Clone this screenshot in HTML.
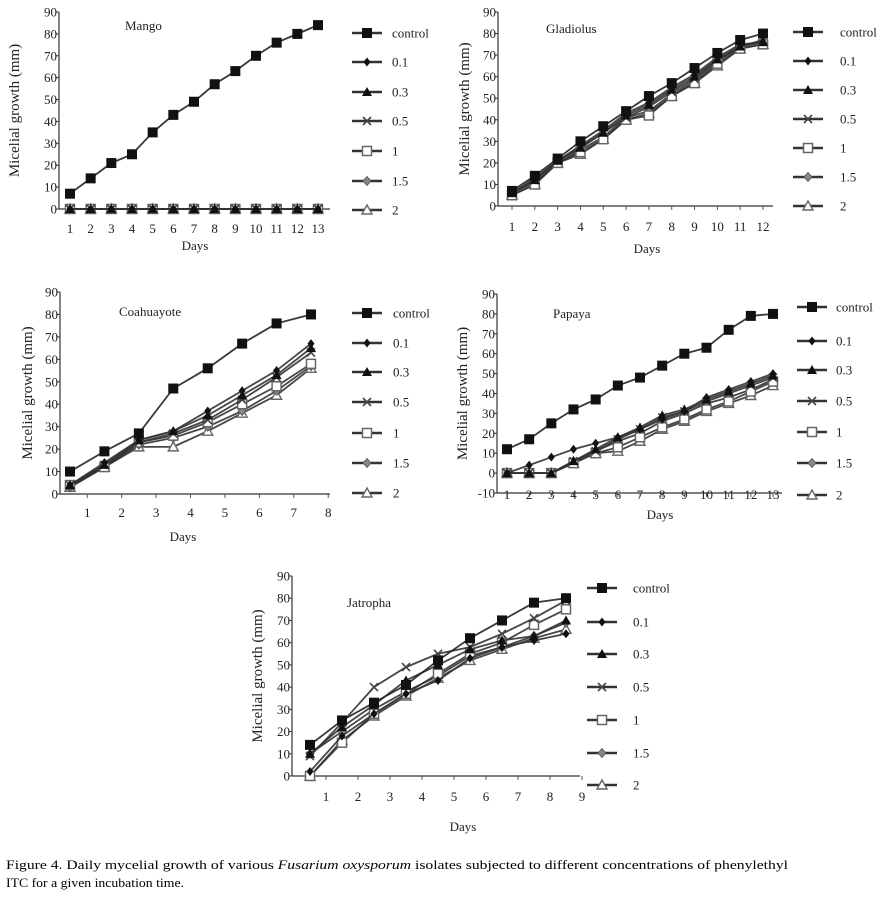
<!DOCTYPE html>
<html><head><meta charset="utf-8"><style>
html,body{margin:0;padding:0;background:#fff;}
svg{display:block;font-family:"Liberation Serif",serif;}
</style></head><body>
<svg id="fig" width="883" height="904" viewBox="0 0 883 904" xmlns="http://www.w3.org/2000/svg">
<text x="6" y="869" font-size="13" textLength="782" lengthAdjust="spacingAndGlyphs">Figure 4. Daily mycelial growth of various <tspan font-style="italic">Fusarium oxysporum</tspan> isolates subjected to different concentrations of phenylethyl</text>
<text x="6" y="887" font-size="13" textLength="178" lengthAdjust="spacingAndGlyphs">ITC for a given incubation time.</text>
</svg>
<script>
const seriesNames = ["control","0.1","0.3","0.5","1","1.5","2"];
const yTicks = [0,10,20,30,40,50,60,70,80,90];
const yTicksPapaya = [-10,0,10,20,30,40,50,60,70,80,90];

const mangoDays = [1,2,3,4,5,6,7,8,9,10,11,12,13];
const mangoControl = [7,14,21,25,35,43,49,57,63,70,76,80,84];
const mango01 = [0,0,0,0,0,0,0,0,0,0,0,0,0];
const mango03 = [0,0,0,0,0,0,0,0,0,0,0,0,0];
const mango05 = [0,0,0,0,0,0,0,0,0,0,0,0,0];
const mango1 = [0,0,0,0,0,0,0,0,0,0,0,0,0];
const mango15 = [0,0,0,0,0,0,0,0,0,0,0,0,0];
const mango2 = [0,0,0,0,0,0,0,0,0,0,0,0,0];

const gladDays = [1,2,3,4,5,6,7,8,9,10,11,12];
const gladControl = [7,14,22,30,37,44,51,57,64,71,77,80];
const glad01 = [6,13,21,28,35,43,48,55,61,69,75,76];
const glad03 = [6,12,21,27,34,42,47,54,60,68,74,76];
const glad05 = [6,12,21,27,34,41,46,53,59,68,74,77];
const glad1 = [5,10,20,25,31,40,42,51,57,66,73,75];
const glad15 = [6,11,20,26,32,41,44,52,58,67,74,76];
const glad2 = [5,10,20,24,31,40,43,51,57,65,73,75];

const coaDays = [0.5,1.5,2.5,3.5,4.5,5.5,6.5,7.5];
const coaControl = [10,19,27,47,56,67,76,80];
const coa01 = [4,14,24,28,37,46,55,67];
const coa03 = [4,13,24,28,35,44,53,65];
const coa05 = [4,13,23,27,33,42,52,63];
const coa1 = [4,12,23,26,32,40,48,58];
const coa15 = [3,12,22,25,30,37,46,57];
const coa2 = [3,12,21,21,28,36,44,56];

const papDays = [1,2,3,4,5,6,7,8,9,10,11,12,13];
const papControl = [12,17,25,32,37,44,48,54,60,63,72,79,80];
const pap01 = [0,4,8,12,15,18,22,27,31,38,42,46,50];
const pap03 = [0,0,0,6,12,18,23,29,32,37,41,45,49];
const pap05 = [0,0,0,6,11,17,22,28,31,36,40,44,48];
const pap1 = [0,0,0,5,10,13,18,23,27,32,36,41,46];
const pap15 = [0,0,0,6,11,16,20,26,30,35,38,42,47];
const pap2 = [0,0,0,5,10,11,16,22,26,31,35,39,44];

const jatDays = [0.5,1.5,2.5,3.5,4.5,5.5,6.5,7.5,8.5];
const jatControl = [14,25,33,41,52,62,70,78,80];
const jat01 = [2,18,28,37,43,53,58,61,64];
const jat03 = [10,22,32,43,50,57,61,63,70];
const jat05 = [9,24,40,49,55,58,64,71,79];
const jat1 = [0,15,28,37,46,55,60,68,75];
const jat15 = [10,20,30,38,45,54,58,63,69];
const jat2 = [0,16,27,36,44,52,57,62,66];

const NS = "http://www.w3.org/2000/svg";
const svg = document.getElementById("fig");
function mk(tag, attrs, parent, name){
  const e = document.createElementNS(NS, tag);
  for (const k in attrs) e.setAttribute(k, attrs[k]);
  
  
  (parent||svg).appendChild(e);
  return e;
}
function marker(g, type, x, y, name){
  const c = "#111";
  if (type===0) mk("rect",{x:x-5,y:y-5,width:10,height:10,fill:c},g,name);
  else if (type===1) mk("path",{d:`M${x},${y-4.5}L${x+3.5},${y}L${x},${y+4.5}L${x-3.5},${y}Z`,fill:c},g,name);
  else if (type===2) mk("path",{d:`M${x},${y-5}L${x+5},${y+4}L${x-5},${y+4}Z`,fill:c},g,name);
  else if (type===3) mk("path",{d:`M${x-4},${y-4}L${x+4},${y+4}M${x+4},${y-4}L${x-4},${y+4}`,stroke:"#444","stroke-width":1.6},g,name);
  else if (type===4) mk("rect",{x:x-4.5,y:y-4.5,width:9,height:9,fill:"#fff",stroke:"#666","stroke-width":1.5},g,name);
  else if (type===5) mk("path",{d:`M${x},${y-4.5}L${x+4},${y}L${x},${y+4.5}L${x-4},${y}Z`,fill:"#888",stroke:"#555","stroke-width":0.9},g,name);
  else mk("path",{d:`M${x},${y-5}L${x+5},${y+4}L${x-5},${y+4}Z`,fill:"#fff",stroke:"#666","stroke-width":1.4},g,name);
}
function panel(p){
  const g = mk("g",{},svg,p.name);
  const ys = v => p.y0 + (v - p.yMin) * (p.y1 - p.y0) / (p.yMax - p.yMin);
  const xs = d => p.xA + (d - p.dA) * (p.xB - p.xA) / (p.dB - p.dA);
  mk("line",{x1:p.ax,y1:ys(p.yMax),x2:p.ax,y2:ys(p.yMin),stroke:"#333","stroke-width":1.2},g,"y-axis-line");
  const axY = p.axisAtZero ? ys(0) : ys(p.yMin);
  mk("line",{x1:p.ax,y1:axY,x2:p.axEnd,y2:axY,stroke:"#333","stroke-width":1.2},g,"x-axis-line");
  p.yt.forEach(v=>{
    const y = ys(v);
    mk("line",{x1:p.ax-3,y1:y,x2:p.ax,y2:y,stroke:"#333"},g,"y-tick");
    const t = mk("text",{x:p.ax-2,y:y+4.5,"font-size":13,"text-anchor":"end",fill:"#222"},g,"y-tick-label");
    t.textContent = v;
  });
  p.xl.forEach(d=>{
    const x = xs(d);
    mk("line",{x1:x,y1:axY,x2:x,y2:axY+4,stroke:"#555"},g,"x-tick");
    const t = mk("text",{x:x,y:p.labY,"font-size":13,"text-anchor":"middle",fill:"#222"},g,"x-tick-label");
    t.textContent = d;
  });
  let t = mk("text",{x:p.daysX,y:p.daysY,"font-size":13,"text-anchor":"middle",fill:"#222"},g,"x-axis-title");
  t.textContent = "Days";
  t = mk("text",{x:0,y:0,"font-size":15,"text-anchor":"middle",fill:"#222",transform:`translate(${p.ytX},${(ys(p.yMax)+ys(p.yMin))/2}) rotate(-90)`},g,"y-axis-title");
  t.textContent = "Micelial growth (mm)";
  t = mk("text",{x:p.titleX,y:p.titleY,"font-size":13,fill:"#222"},g,"panel-title");
  t.textContent = p.title;
  for (let s = p.series.length-1; s>=0; s--){
    const vals = p.series[s];
    const pts = vals.map((v,i)=>xs(p.days[i])+","+ys(v)).join(" ");
    mk("polyline",{points:pts,fill:"none",stroke:s===0?"#222":"#333","stroke-width":1.8,"stroke-opacity":0.9},g,"series-line-"+seriesNames[s]);
    vals.forEach((v,i)=>marker(g,s,xs(p.days[i]),ys(v),"point-"+seriesNames[s]));
  }
  seriesNames.forEach((n,i)=>{
    const ly = p.legY[i];
    const lg = mk("g",{},g,"legend-entry-"+n);
    mk("line",{x1:p.legX-15,y1:ly,x2:p.legX+15,y2:ly,stroke:"#333","stroke-width":2.6},lg,"legend-line");
    marker(lg,i,p.legX,ly,"legend-marker");
    const tt = mk("text",{x:p.legTX,y:ly+4.5,"font-size":13,fill:"#222"},lg,"legend-label");
    tt.textContent = n;
  });
}
panel({name:"mango-chart",title:"Mango",titleX:125,titleY:30,ax:59,axEnd:330,y0:209,y1:12,yMin:0,yMax:90,axisAtZero:true,yt:yTicks,
  xA:70,xB:318,dA:1,dB:13,days:mangoDays,xl:mangoDays,labY:233,daysX:195,daysY:250,ytX:19,
  series:[mangoControl,mango01,mango03,mango05,mango1,mango15,mango2],legX:367,legTX:392,legY:[33,62,92,121,151,181,210]});
panel({name:"gladiolus-chart",title:"Gladiolus",titleX:546,titleY:33,ax:498,axEnd:773,y0:206,y1:12,yMin:0,yMax:90,axisAtZero:true,yt:yTicks,
  xA:512,xB:763,dA:1,dB:12,days:gladDays,xl:gladDays,labY:231,daysX:647,daysY:253,ytX:469,
  series:[gladControl,glad01,glad03,glad05,glad1,glad15,glad2],legX:808,legTX:840,legY:[32,61,90,119,148,177,206]});
panel({name:"coahuayote-chart",title:"Coahuayote",titleX:119,titleY:316,ax:60,axEnd:330,y0:494,y1:292,yMin:0,yMax:90,axisAtZero:true,yt:yTicks,
  xA:70,xB:311,dA:0.5,dB:7.5,days:coaDays,xl:[1,2,3,4,5,6,7,8],labY:517,daysX:183,daysY:541,ytX:32,
  series:[coaControl,coa01,coa03,coa05,coa1,coa15,coa2],legX:367,legTX:393,legY:[313,343,372,402,433,463,493]});
panel({name:"papaya-chart",title:"Papaya",titleX:553,titleY:318,ax:497,axEnd:782,y0:493,y1:294,yMin:-10,yMax:90,axisAtZero:false,yt:yTicksPapaya,
  xA:507,xB:773,dA:1,dB:13,days:papDays,xl:papDays,labY:499,daysX:660,daysY:519,ytX:467,
  series:[papControl,pap01,pap03,pap05,pap1,pap15,pap2],legX:812,legTX:836,legY:[307,341,370,401,432,463,495]});
panel({name:"jatropha-chart",title:"Jatropha",titleX:347,titleY:607,ax:292,axEnd:580,y0:776,y1:576,yMin:0,yMax:90,axisAtZero:true,yt:yTicks,
  xA:310,xB:566,dA:0.5,dB:8.5,days:jatDays,xl:[1,2,3,4,5,6,7,8,9],labY:801,daysX:463,daysY:831,ytX:262,
  series:[jatControl,jat01,jat03,jat05,jat1,jat15,jat2],legX:602,legTX:633,legY:[588,622,654,687,720,753,785]});
</script>
</body></html>
